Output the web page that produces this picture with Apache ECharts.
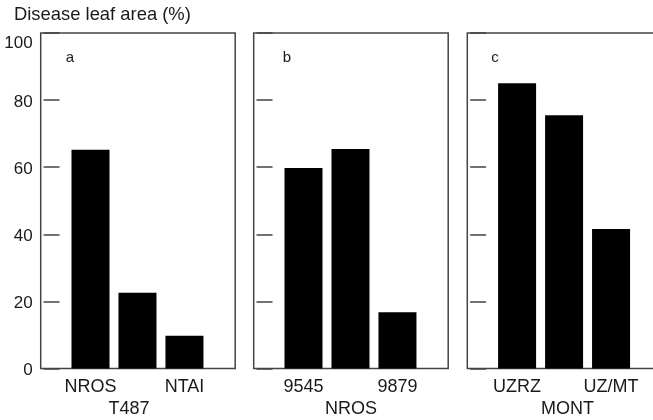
<!DOCTYPE html>
<html>
<head>
<meta charset="utf-8">
<script src="https://cdn.jsdelivr.net/npm/echarts@6/dist/echarts.min.js"></script>
<style>html,body{margin:0;padding:0;background:#fff;}#c{width:653px;height:420px;}</style>
</head>
<body>
<div id="c"></div>
<script>
// ---- data ----
var yTicks = [0, 20, 40, 60, 80, 100];
var panelLetters = ["a", "b", "c"];
var groupNames = ["T487", "NROS", "MONT"];
var catsA = ["NROS", "", "NTAI"];
var catsB = ["9545", "", "9879"];
var catsC = ["UZRZ", "", "UZ/MT"];
var valsA = [65.2, 22.6, 9.8];
var valsB = [59.8, 65.4, 16.8];
var valsC = [85.0, 75.5, 41.6];

var cats = [catsA, catsB, catsC];
var vals = [valsA, valsB, valsC];

var FONT = "Liberation Sans";
var INK = "#1a1a1a";
var LINE = "#444";

var lefts = [40.7, 253.7, 467.3];
var gridW = 194.5;
var gridTop = 33;
var gridH = 335.6;

var grids = [], xAxes = [], yAxes = [], series = [], titles = [];
titles.push({
  text: "Disease leaf area (%)", left: 9, top: 1,
  textStyle: { fontFamily: FONT, fontSize: 18.4, fontWeight: "normal", color: INK }
});
var letterOff = [20, 24, 19];
for (var p = 0; p < 3; p++) {
  grids.push({
    left: lefts[p], top: gridTop, width: gridW, height: gridH,
    outerBoundsMode: "none", containLabel: false,
    show: true, borderColor: LINE, borderWidth: 1.5, backgroundColor: "transparent"
  });
  (function (pc) {
    xAxes.push({
      type: "value", gridIndex: p, min: -0.06, max: 4.08,
      axisLine: { show: false }, axisTick: { show: false }, splitLine: { show: false },
      axisLabel: {
        customValues: [1, 3], margin: 9,
        fontFamily: FONT, fontSize: 18, color: INK,
        formatter: function (v) { var i = Math.round(v) - 1; return pc[i] || ""; }
      },
      name: groupNames[p], nameLocation: "middle", nameGap: 29,
      nameTextStyle: { fontFamily: FONT, fontSize: 18, color: INK,
        padding: p === 0 ? [0, 18, 0, 0] : (p === 2 ? [0, 0, 0, 6] : 0) }
    });
  })(cats[p]);
  yAxes.push({
    type: "value", gridIndex: p, min: 0, max: 100, interval: 20,
    axisLine: { show: false },
    axisTick: { show: true, inside: true, length: 16, lineStyle: { color: LINE, width: 1.5 } },
    splitLine: { show: false },
    axisLabel: {
      show: p === 0, margin: 8, fontFamily: FONT, fontSize: 17, color: INK,
      formatter: function (v) { return v === 100 ? "{t|" + v + "}" : "{n|" + v + "}"; },
      rich: {
        t: { fontFamily: FONT, fontSize: 17, color: INK, padding: [20, 0, 0, 0] },
        n: { fontFamily: FONT, fontSize: 17, color: INK, padding: [4, 0, 0, 0] }
      }
    }
  });
  series.push({
    type: "bar", xAxisIndex: p, yAxisIndex: p, barWidth: 38,
    itemStyle: { color: "#000" },
    data: vals[p].map(function (v, i) { return [i + 1, v]; }),
    silent: true, animation: false
  });
  titles.push({
    text: panelLetters[p], left: lefts[p] + letterOff[p], top: 45,
    textStyle: { fontFamily: FONT, fontSize: 15, fontWeight: "normal", color: INK }
  });
}

var chart = echarts.init(document.getElementById("c"), null, { renderer: "canvas" });
chart.setOption({
  animation: false,
  backgroundColor: "#fff",
  title: titles,
  grid: grids, xAxis: xAxes, yAxis: yAxes, series: series
});
</script>
</body>
</html>
